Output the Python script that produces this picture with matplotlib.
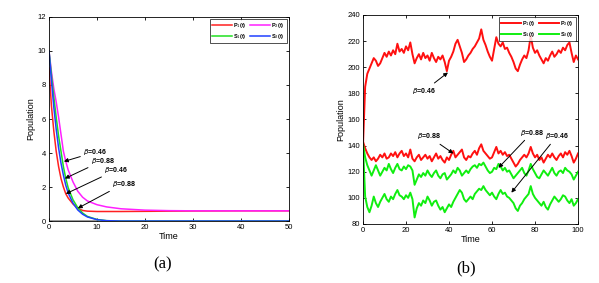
import numpy as np
import matplotlib.pyplot as plt

# (a) deterministic decay
t_a = [0, 0.5, 1, 1.5, 2, 2.5, 3, 3.5, 4, 5, 6, 7, 8, 10, 12, 15, 20, 25, 30, 40, 50]
p1_a = [9.0, 6.8, 5.3, 4.1, 3.2, 2.5, 2.0, 1.6, 1.35, 1.0, 0.75, 0.62, 0.58, 0.56, 0.56, 0.56, 0.57, 0.58, 0.59, 0.6, 0.6]
p2_a = [10.0, 8.8, 7.8, 7.0, 6.1, 5.1, 4.1, 3.5, 3.0, 2.3, 1.75, 1.4, 1.18, 0.96, 0.83, 0.72, 0.64, 0.61, 0.6, 0.6, 0.6]
s1_a = [10.0, 8.6, 7.3, 6.1, 5.0, 4.1, 3.2, 2.5, 1.95, 1.25, 0.78, 0.47, 0.27, 0.09, 0.02, 0.0, 0.0, 0.0, 0.0, 0.0, 0.0]
s2_a = [10.0, 8.3, 6.7, 5.4, 4.3, 3.4, 2.7, 2.1, 1.65, 1.05, 0.65, 0.4, 0.24, 0.08, 0.02, 0.0, 0.0, 0.0, 0.0, 0.0, 0.0]
t_gray = [0, 10]
gray_a = [0, 0]

# (b) stochastic paths, t = 0..100
t_b = list(range(101))
p1_b = [140, 185, 195, 199, 203, 207, 205, 201, 203, 207, 211, 208, 212, 209, 213, 210, 218, 212, 214, 211,
        216, 213, 219, 210, 203, 207, 210, 206, 211, 207, 209, 205, 211, 207, 204, 208, 206, 209, 204, 197,
        205, 208, 212, 218, 221, 216, 211, 204, 206, 209, 211, 214, 216, 219, 222, 229, 221, 217, 212, 208,
        205, 214, 223, 218, 216, 219, 214, 215, 211, 208, 204, 199, 197, 202, 206, 209, 207, 213, 224, 215,
        211, 213, 209, 206, 203, 207, 205, 209, 212, 208, 210, 213, 211, 215, 213, 217, 219, 211, 204, 209, 206]
p2_b = [143, 138, 134, 131, 129, 131, 128, 130, 133, 131, 134, 130, 131, 134, 132, 135, 131, 134, 136, 132,
        134, 131, 137, 130, 128, 131, 133, 129, 131, 133, 130, 132, 128, 131, 134, 130, 132, 129, 127, 131,
        129, 133, 136, 131, 133, 135, 137, 131, 129, 132, 131, 134, 136, 133, 138, 141, 136, 134, 132, 130,
        131, 135, 139, 134, 136, 133, 135, 132, 133, 130, 127, 124, 126, 129, 131, 133, 131, 134, 139, 134,
        131, 133, 129, 131, 127, 130, 133, 131, 134, 131, 129, 132, 134, 131, 135, 133, 136, 132, 127, 130, 134]
s1_b = [141, 131, 125, 121, 117, 121, 125, 121, 117, 120, 123, 121, 126, 122, 119, 123, 126, 122, 121, 124,
        122, 125, 124, 121, 110, 114, 118, 116, 119, 117, 121, 118, 116, 119, 121, 117, 115, 118, 119, 114,
        116, 118, 121, 119, 123, 121, 117, 119, 121, 119, 122, 124, 125, 123, 126, 125, 127, 124, 121, 119,
        120, 123, 122, 126, 124, 121, 123, 120, 121, 118, 115, 117, 119, 121, 123, 119, 117, 121, 126, 122,
        119, 116, 115, 118, 121, 119, 117, 120, 123, 119, 117, 120, 121, 119, 123, 121, 120, 118, 114, 117, 120]
s2_b = [140, 101, 93, 89, 94, 101, 96, 93, 97, 100, 103, 99, 97, 101, 99, 103, 106, 102, 101, 99,
        102, 100, 104, 99, 85, 92, 96, 94, 98, 96, 101, 98, 94, 97, 98, 94, 91, 93, 89, 92,
        95, 93, 97, 100, 103, 106, 104, 99, 97, 99, 101, 99, 103, 105, 107, 106, 109, 106, 104, 102,
        104, 101, 99, 103, 106, 103, 104, 101, 100, 98, 96, 92, 90, 94, 96, 99, 101, 103, 109, 103,
        100, 98, 96, 94, 97, 93, 91, 95, 98, 101, 99, 97, 99, 102, 101, 98, 96, 99, 94, 96, 99]

labels = ['P$_1$(t)', 'P$_2$(t)', 'S$_1$(t)', 'S$_2$(t)']

plt.rcParams['font.family'] = ['Liberation Sans', 'DejaVu Sans']
plt.rcParams['mathtext.fontset'] = 'dejavusans'

fig = plt.figure(figsize=(5.99, 2.83), dpi=100)
ax1 = fig.add_axes([0.0818, 0.219, 0.4007, 0.721])
ax2 = fig.add_axes([0.606, 0.2085, 0.359, 0.7385])

# ---- (a)
ax1.plot(t_gray, gray_a, color='#909090', lw=2)
l1, = ax1.plot(t_a, p1_a, color='#ff2020', lw=1.1)
l2, = ax1.plot(t_a, p2_a, color='#ff20ff', lw=1.1)
l3, = ax1.plot(t_a, s1_a, color='#20e020', lw=1.1)
l4, = ax1.plot(t_a, s2_a, color='#2040ff', lw=1.1)
lines_a = [l1, l2, l3, l4]
ax1.set_xlim(0, 50)
ax1.set_ylim(0, 12)
ax1.set_xticks(range(0, 51, 10))
ax1.set_yticks(range(0, 13, 2))

ann_a = [('0.46', (7.1, 4.05), (3.1, 3.5)),
         ('0.88', (8.7, 3.55), (3.3, 2.5)),
         ('0.46', (11.5, 3.0), (3.5, 1.6)),
         ('0.88', (13.1, 2.2), (6.0, 0.75))]
for val, xytext, xy in ann_a:
    ax1.annotate(r'$\beta$=' + val, xy=xy, xytext=xytext, fontsize=5, fontweight='bold',
                 va='center', arrowprops=dict(arrowstyle='-|>', color='black', lw=0.7,
                                              mutation_scale=6, shrinkA=0, shrinkB=0))

# ---- (b)
m1, = ax2.plot(t_b, p1_b, color='#ff1010', lw=1.4)
m2, = ax2.plot(t_b, p2_b, color='#ff1010', lw=1.4)
m3, = ax2.plot(t_b, s1_b, color='#10ee10', lw=1.4)
m4, = ax2.plot(t_b, s2_b, color='#10ee10', lw=1.4)
lines_b = [m1, m2, m3, m4]
ax2.set_xlim(0, 100)
ax2.set_ylim(80, 240)
ax2.set_xticks(range(0, 101, 20))
ax2.set_yticks(range(80, 241, 20))

ann_b = [('0.46', (23, 182), (39.5, 196)),
         ('0.88', (25, 147), (42, 134)),
         ('0.88', (73, 150), (63, 123)),
         ('0.46', (84.5, 147), (69, 104))]
for val, xytext, xy in ann_b:
    ax2.annotate(r'$\beta$=' + val, xy=xy, xytext=xytext, fontsize=5, fontweight='bold',
                 va='center', arrowprops=dict(arrowstyle='-|>', color='black', lw=0.7,
                                              mutation_scale=6, shrinkA=0, shrinkB=0))

for ax, ln in ((ax1, lines_a), (ax2, lines_b)):
    ax.tick_params(direction='in', top=True, right=True, labelsize=5.5, length=2.5, width=0.6, pad=2)
    for s in ax.spines.values():
        s.set_linewidth(0.6)
    ax.set_xlabel('Time', fontsize=6.5, labelpad=1)
    ax.set_ylabel('Population', fontsize=6.5, labelpad=2)
    # column-wise fill: order so rows read P1 P2 / S1 S2
    order = [0, 2, 1, 3]
    leg = ax.legend([ln[i] for i in order], [labels[i] for i in order],
                    loc='upper right', ncol=2, fontsize=4, frameon=True, fancybox=False,
                    borderaxespad=0.3, handlelength=3.5, columnspacing=0.6, handletextpad=0.3,
                    borderpad=0.4, labelspacing=0.4)
    leg.get_frame().set_edgecolor('black')
    leg.get_frame().set_linewidth(0.6)
    for txt in leg.get_texts():
        txt.set_fontweight('bold')

fig.text(0.272, 0.064, '(a)', fontsize=12, family='Liberation Serif', ha='center', va='center')
fig.text(0.778, 0.053, '(b)', fontsize=12, family='Liberation Serif', ha='center', va='center')

fig.savefig('out.png', dpi=100)
